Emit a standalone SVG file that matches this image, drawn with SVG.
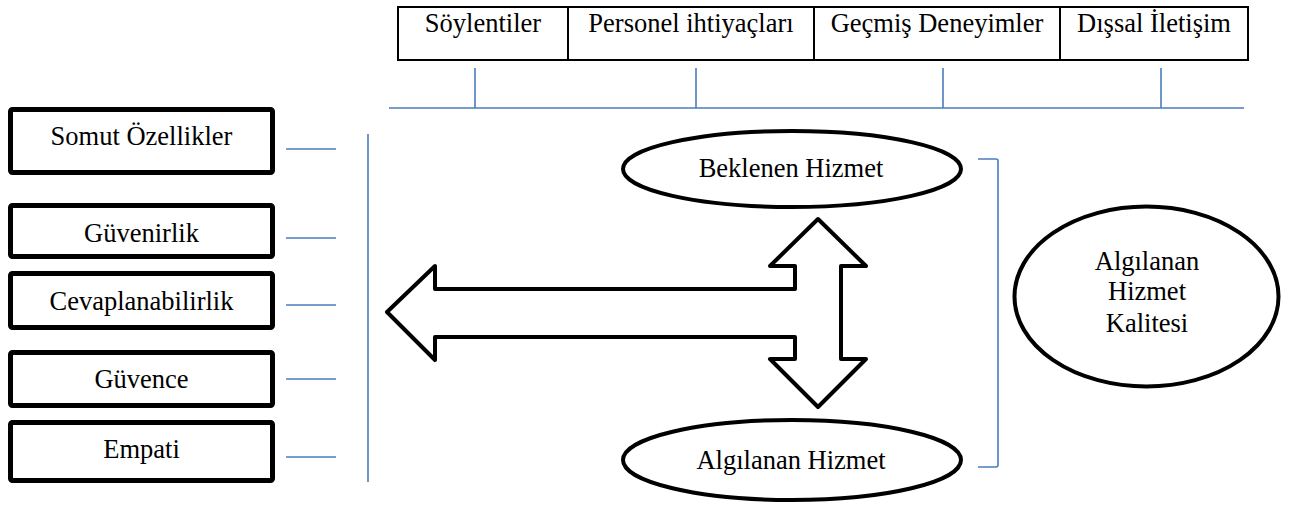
<svg xmlns="http://www.w3.org/2000/svg" width="1289" height="506" viewBox="0 0 1289 506">
  <style>
    text { font-family: 'Liberation Serif', 'Times New Roman', serif; }
    .lbl { font-size: 26.5px; fill: #000; text-anchor: middle; }
    .box { fill: #fff; stroke: #000; stroke-width: 5; }
    .top { fill: #fff; stroke: #000; stroke-width: 2; }
    .oval { fill: #fff; stroke: #000; stroke-width: 4; }
    .link { fill: none; stroke: #4a7ebb; stroke-width: 1.6; }
  </style>
  <rect width="1289" height="506" fill="#fff"/>

  <!-- factor bar across the top -->
  <g id="factors">
    <rect class="top" x="398" y="7" width="850" height="53"/>
    <line x1="568" y1="7" x2="568" y2="60" stroke="#000" stroke-width="2"/>
    <line x1="814" y1="7" x2="814" y2="60" stroke="#000" stroke-width="2"/>
    <line x1="1060" y1="7" x2="1060" y2="60" stroke="#000" stroke-width="2"/>
    <g id="soylentiler"><text class="lbl" x="483" y="32">Söylentiler</text></g>
    <g id="personel"><text class="lbl" x="691" y="32">Personel ihtiyaçları</text></g>
    <g id="gecmis"><text class="lbl" x="937" y="32">Geçmiş Deneyimler</text></g>
    <g id="dissal"><text class="lbl" x="1154" y="32">Dışsal İletişim</text></g>
  </g>

  <!-- dimension boxes -->
  <g id="somut">
    <rect class="box" x="10.5" y="109.5" width="262" height="63" rx="2"/>
    <text class="lbl" x="141.5" y="145">Somut Özellikler</text>
  </g>
  <g id="guvenirlik">
    <rect class="box" x="10.5" y="205.5" width="262" height="51" rx="2"/>
    <text class="lbl" x="141.5" y="242">Güvenirlik</text>
  </g>
  <g id="cevaplanabilirlik">
    <rect class="box" x="10.5" y="273.5" width="262" height="54" rx="2"/>
    <text class="lbl" x="141.5" y="310">Cevaplanabilirlik</text>
  </g>
  <g id="guvence">
    <rect class="box" x="10.5" y="352.5" width="262" height="53" rx="2"/>
    <text class="lbl" x="141.5" y="388">Güvence</text>
  </g>
  <g id="empati">
    <rect class="box" x="10.5" y="422.5" width="262" height="58" rx="2"/>
    <text class="lbl" x="141.5" y="458">Empati</text>
  </g>

  <!-- service ovals -->
  <g id="beklenen">
    <ellipse class="oval" cx="792" cy="169" rx="169" ry="38"/>
    <text class="lbl" x="791" y="177">Beklenen Hizmet</text>
  </g>
  <g id="algilanan">
    <ellipse class="oval" cx="792" cy="460" rx="169" ry="40"/>
    <text class="lbl" x="791" y="469">Algılanan Hizmet</text>
  </g>
  <g id="kalite">
    <ellipse class="oval" cx="1146.5" cy="296.5" rx="132" ry="90"/>
    <text class="lbl" x="1147" y="270">Algılanan</text>
    <text class="lbl" x="1147" y="300">Hizmet</text>
    <text class="lbl" x="1147" y="332">Kalitesi</text>
  </g>

  <!-- connectors -->
  <g id="connectors">
    <path class="link" d="M389 108 H1244 M475 68 V108 M696 68 V108 M943 68 V108 M1161 68 V108"/>
    <path class="link" d="M286 149 H336 M286 238 H336 M286 305 H336 M286 379 H336 M286 457 H336"/>
    <path class="link" d="M368 134 V482"/>
    <path class="link" d="M978 159 H996 Q998 159 998 161 V465 Q998 467 996 467 H978"/>
    <polygon fill="#fff" stroke="#000" stroke-width="4" stroke-linejoin="round"
      points="387,312 435,266 435,289 795,289 795,266 770,266 818,219 866,266 841,266 841,359 866,359 818,407 770,359 795,359 795,337 435,337 435,360"/>
  </g>
</svg>
